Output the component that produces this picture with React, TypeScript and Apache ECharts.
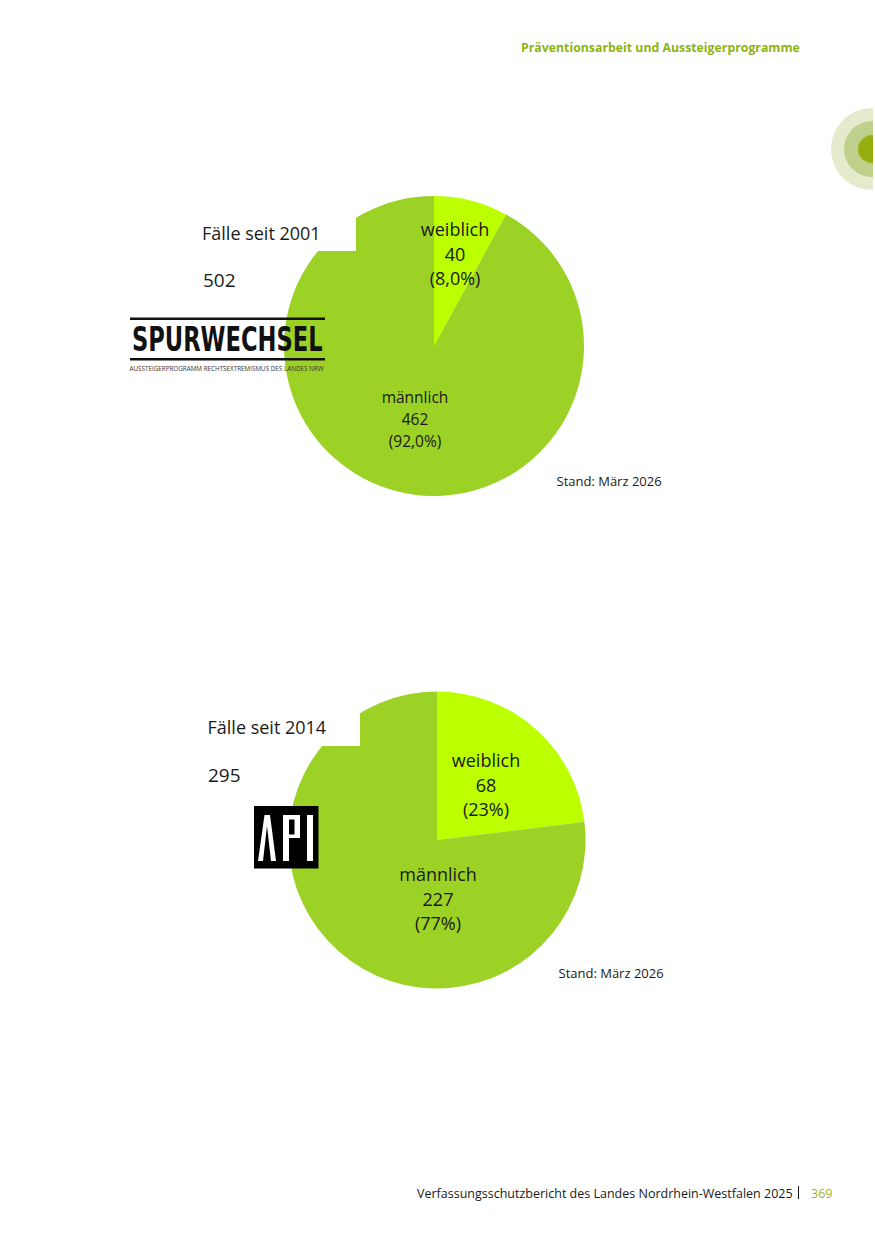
import React, { useEffect, useRef } from "react";
import * as echarts from "echarts";

const genders = ["weiblich", "männlich"];
const casesSince2001 = [40, 462];
const sharesSince2001 = ["8,0%", "92,0%"];
const casesSince2014 = [68, 227];
const sharesSince2014 = ["23%", "77%"];
const sliceColors = ["#BBFF00", "#9BD225"];
const FONT = '"Open Sans", sans-serif';

export default function App() {
  const ref = useRef<HTMLDivElement>(null);
  useEffect(() => {
    const chart = echarts.init(ref.current!, undefined, { renderer: "svg" });
    const pie = (
      center: number[], radius: number, values: number[], shares: string[],
      pos: number[][], sizes: number[], lineHeights: number[]
    ) => ({
      type: "pie",
      center,
      radius,
      startAngle: 90,
      clockwise: true,
      silent: true,
      z: 1,
      labelLine: { show: false },
      labelLayout: (p: any) => ({ x: pos[p.dataIndex][0], y: pos[p.dataIndex][1], align: "center", verticalAlign: "middle" }),
      data: values.map((value, i) => ({
        name: genders[i],
        value,
        itemStyle: { color: sliceColors[i] },
        label: {
          show: true,
          position: "inside",
          formatter: `${genders[i]}\n${value}\n(${shares[i]})`,
          fontFamily: FONT,
          fontSize: sizes[i],
          lineHeight: lineHeights[i],
          color: "#1a1a1a",
          align: "center",
        },
      })),
    });
    const t = (x: number, y: number, text: string, fontSize: number, extra: any = {}) => ({
      type: "text", x, y, z: 10,
      style: { text, fontFamily: FONT, fontSize, fill: "#1a1a1a", verticalAlign: "middle", ...extra },
    });
    const r = (x: number, y: number, width: number, height: number, fill: string, z = 5) => ({
      type: "rect", z, shape: { x, y, width, height }, style: { fill },
    });
    chart.setOption({
      animation: false,
      backgroundColor: "#ffffff",
      series: [
        pie([434, 346], 150, casesSince2001, sharesSince2001, [[455, 253.5], [415, 418.5]], [18, 15.5], [24.5, 22]),
        pie([437, 840], 148.5, casesSince2014, sharesSince2014, [[486, 784.5], [438, 898.5]], [18, 18], [24.5, 24.5]),
      ],
      graphic: { elements: [
        r(202, 200, 154, 51, "#ffffff"),
        r(207, 695, 153, 51, "#ffffff"),
        t(202, 233, "Fälle seit 2001", 18),
        t(203, 279.5, "502", 19),
        t(207.5, 727, "Fälle seit 2014", 18),
        t(208, 775, "295", 19),
        t(556.5, 481, "Stand: März 2026", 13),
        t(558.5, 973, "Stand: März 2026", 13),
        t(521, 47.5, "Präventionsarbeit und Aussteigerprogramme", 12.3, { fontWeight: "bold", fill: "#8DB40F" }),
        t(417, 1193.5, "Verfassungsschutzbericht des Landes Nordrhein-Westfalen 2025", 12.5),
        r(798, 1186, 1, 13, "#1a1a1a"),
        t(811, 1193.5, "369", 12.5, { fill: "#9DB52A" }),
        { type: "circle", z: 2, shape: { cx: 872, cy: 149, r: 41 }, style: { fill: "#E4EBCD" } },
        { type: "circle", z: 3, shape: { cx: 872, cy: 149, r: 28 }, style: { fill: "#BFD08C" } },
        { type: "circle", z: 4, shape: { cx: 872, cy: 149, r: 14 }, style: { fill: "#97AE0F" } },
        r(873, 100, 2, 100, "#ffffff"),
        r(130, 317.5, 195, 2.5, "#111111", 6),
        r(130, 358, 195, 2.5, "#111111", 6),
        { ...t(132, 339.5, "SPURWECHSEL", 34, { fontFamily: '"DejaVu Sans"', fontWeight: "bold", fill: "#111111" }), scaleX: 0.665 },
        t(129.5, 368, "AUSSTEIGERPROGRAMM RECHTSEXTREMISMUS DES LANDES NRW", 6.3, { fill: "#333333" }),
        r(254, 806, 64.5, 62.5, "#000000", 6),
        { type: "polygon", z: 7, shape: { points: [[258, 861], [264.5, 815], [270, 815], [276, 861], [271, 861], [267, 826], [263, 861]] }, style: { fill: "#ffffff" } },
        { type: "polygon", z: 7, shape: { points: [[283, 815], [300, 815], [300, 838], [289, 838], [289, 861], [283, 861]] }, style: { fill: "#ffffff" } },
        r(289, 819.5, 5.5, 15, "#000000", 8),
        r(307, 815, 6, 46, "#ffffff", 7),
      ] },
    });
    return () => chart.dispose();
  }, []);
  return <div ref={ref} style={{ position: "absolute", left: 0, top: 0, width: 875, height: 1241 }} />;
}
